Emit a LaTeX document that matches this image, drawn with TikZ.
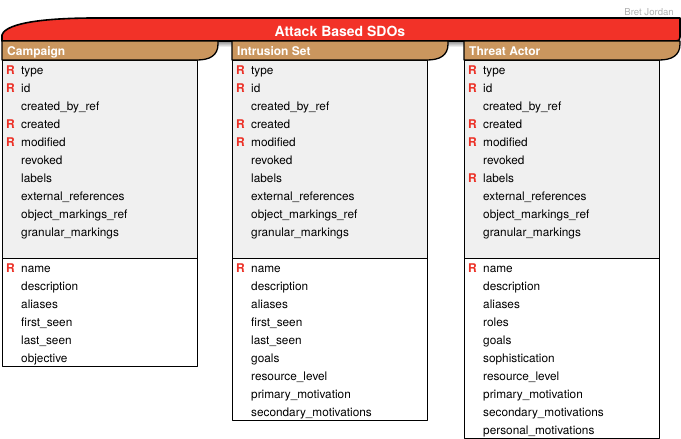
\documentclass[tikz,border=0pt]{standalone}
\usepackage{fontspec}
\setmainfont{TeX Gyre Heros}
\usetikzlibrary{positioning}

\definecolor{bannerred}{RGB}{242,50,40}
\definecolor{headtan}{RGB}{202,150,94}
\definecolor{bodygrey}{RGB}{240,240,240}
\definecolor{reqred}{RGB}{236,48,38}

\begin{document}
\begin{tikzpicture}[x=1pt, y=-1pt, line join=round,
    bannerline/.style={line width=1.6pt, draw=black, fill=bannerred},
    headline/.style={line width=1.3pt, draw=black, fill=headtan},
    bodyline/.style={line width=0.9pt, draw=black},
    title/.style={text=white, font=\fontsize{14}{16}\selectfont\bfseries, inner sep=0pt, anchor=base},
    headtext/.style={text=white, font=\fontsize{12}{14}\selectfont\bfseries, inner sep=0pt, anchor=base west},
    field/.style={font=\fontsize{11.8}{14}\selectfont, inner sep=0pt, anchor=base west},
    req/.style={text=reqred, font=\fontsize{12}{14}\selectfont\bfseries, inner sep=0pt, anchor=base west},
    credit/.style={text=black!30, font=\fontsize{9.6}{11}\selectfont, inner sep=0pt, anchor=base east}]

  \useasboundingbox (0,0) rectangle (681,439);

  % Author tag, top right
  \node[credit] (author) at (674,15.7) {Bret Jordan};

  % Shadow under the banner
  \shade[top color=black!45, bottom color=white] (2,41) rectangle (680,47);

  % Banner
  \draw[bannerline] (2,41) -- (2,35) .. controls (6,22) and (50,18) .. (95,18)
       -- (680,18) -- (680,37) .. controls (680,40) and (679,41) .. (676,41) -- cycle;
  \node[title] (banner) at (340,36) {Attack Based SDOs};

  % The three boxes: header, grey common part, white own part
  \foreach \cx/\cid/\cname/\cbot in {2/camp/Campaign/366, 232/intr/Intrusion Set/420, 464/thre/Threat Actor/438} {
    \fill[bodygrey] (\cx,60) rectangle ({\cx+195},258);
    \draw[bodyline] (\cx,60) rectangle ({\cx+195},\cbot);
    \draw[bodyline] (\cx,258) -- ({\cx+195},258);
    \draw[headline] (\cx,41) -- ({\cx+216},41) -- ({\cx+216},44)
         .. controls ({\cx+216},56) and ({\cx+207},60) .. ({\cx+195},60) -- (\cx,60) -- cycle;
    \node[headtext] (\cid-head) at ({\cx+5},55.7) {\cname};
    % common properties
    \foreach \rq/\f [count=\i] in {R/type, R/id, /created\_by\_ref, R/created, R/modified, /revoked,
        /labels, /external\_references, /object\_markings\_ref, /granular\_markings} {
      \node[req] (\cid-r\i) at ({\cx+4},{74+18*(\i-1)}) {\rq};
      \node[field] (\cid-f\i) at ({\cx+19},{74+18*(\i-1)}) {\f};
    }
  }

  % labels is required for Threat Actor
  \node[req] (thre-rlabels) at (468,182) {R};

  % Campaign own properties
  \foreach \rq/\f [count=\i] in {R/name, /description, /aliases, /first\_seen, /last\_seen, /objective} {
    \node[req] (camp-rs\i) at (6,{272+18*(\i-1)}) {\rq};
    \node[field] (camp-s\i) at (21,{272+18*(\i-1)}) {\f};
  }

  % Intrusion Set own properties
  \foreach \rq/\f [count=\i] in {R/name, /description, /aliases, /first\_seen, /last\_seen, /goals,
      /resource\_level, /primary\_motivation, /secondary\_motivations} {
    \node[req] (intr-rs\i) at (236,{272+18*(\i-1)}) {\rq};
    \node[field] (intr-s\i) at (251,{272+18*(\i-1)}) {\f};
  }

  % Threat Actor own properties
  \foreach \rq/\f [count=\i] in {R/name, /description, /aliases, /roles, /goals, /sophistication,
      /resource\_level, /primary\_motivation, /secondary\_motivations, /personal\_motivations} {
    \node[req] (thre-rs\i) at (468,{272+18*(\i-1)}) {\rq};
    \node[field] (thre-s\i) at (483,{272+18*(\i-1)}) {\f};
  }
\end{tikzpicture}
\end{document}
